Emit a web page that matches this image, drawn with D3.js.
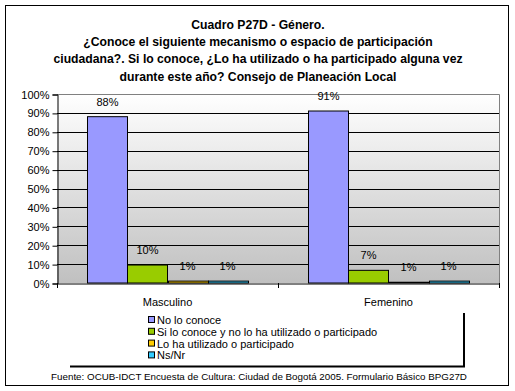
<!DOCTYPE html>
<html><head><meta charset="utf-8">
<script src="https://cdn.jsdelivr.net/npm/d3@7"></script>
<style>body{margin:0;background:#fff}svg{display:block}text{font-family:"Liberation Sans",Arial,sans-serif}</style>
</head><body><svg id="c" width="515" height="391"></svg>
<script>
const categories = ["Masculino", "Femenino"];
const seriesNames = ["No lo conoce", "Si lo conoce y no lo ha utilizado o participado", "Lo ha utilizado o participado", "Ns/Nr"];
const masculinoValues = [88, 9.5, 1, 1];
const femeninoValues = [91, 6.7, 0.4, 1];
const masculinoLabels = ["88%", "10%", "1%", "1%"];
const femeninoLabels = ["91%", "7%", "1%", "1%"];
const seriesColors = ["#9999ff", "#99cc00", "#ffcc00", "#33ccff"];
const yTickValues = [0, 10, 20, 30, 40, 50, 60, 70, 80, 90, 100];
const titleLines = ["Cuadro P27D - Género.", "¿Conoce el siguiente mecanismo o espacio de participación", "ciudadana?. Si lo conoce, ¿Lo ha utilizado o ha participado alguna vez", "durante este año? Consejo de Planeación Local"];
const sourceText = "Fuente: OCUB-IDCT Encuesta de Cultura: Ciudad de Bogotá 2005. Formulario Básico BPG27D";

const svg = d3.select("#c");
const L = 57, R = 499, T = 94, B = 283;

// outer border
svg.append("rect").attr("x", 5.5).attr("y", 5.5).attr("width", 503).attr("height", 380)
  .attr("fill", "#fff").attr("stroke", "#000");

// title
svg.append("g").selectAll("text").data(titleLines).join("text")
  .attr("x", 258).attr("y", (d, i) => 29 + i * 17.2)
  .attr("text-anchor", "middle").attr("font-weight", "bold").attr("font-size", "12.2px")
  .text(d => d);

// gradient
const defs = svg.append("defs");
const grad = defs.append("linearGradient").attr("id", "bg").attr("x1", 0).attr("y1", 0).attr("x2", 0).attr("y2", 1);
grad.append("stop").attr("offset", "0%").attr("stop-color", "#ffffff");
grad.append("stop").attr("offset", "100%").attr("stop-color", "#c0c0c0");

const y = d3.scaleLinear().domain([0, 100]).range([B, T]);
const x0 = d3.scaleBand().domain(categories).range([L, R]);
const x1 = d3.scaleBand().domain(seriesNames).range([0, x0.bandwidth()]).paddingInner(0).paddingOuter(0.76);

svg.append("rect").attr("x", L).attr("y", T).attr("width", R - L).attr("height", B - T).attr("fill", "url(#bg)");

// gridlines
svg.append("g").selectAll("line").data(yTickValues.filter(v => v > 0 && v < 100)).join("line")
  .attr("x1", L).attr("x2", R).attr("y1", d => Math.round(y(d)) + 0.5).attr("y2", d => Math.round(y(d)) + 0.5)
  .attr("stroke", "#000");
// top and right border (gray)
svg.append("path").attr("d", `M${L},${T + 0.5}H${R + 0.5}V${B}`).attr("fill", "none").attr("stroke", "#808080");

// bars
const data = [masculinoValues, femeninoValues];
const labels = [masculinoLabels, femeninoLabels];
categories.forEach((c, ci) => {
  const g = svg.append("g").attr("transform", `translate(${x0(c)},0)`);
  const rows = seriesNames.map((s, si) => ({s, v: data[ci][si], lab: labels[ci][si], col: seriesColors[si]}));
  g.selectAll("rect").data(rows).join("rect")
    .attr("x", d => Math.round(x1(d.s)) + 0.5).attr("width", Math.round(x1.bandwidth()))
    .attr("y", d => y(d.v)).attr("height", d => B - y(d.v))
    .attr("fill", d => d.col).attr("stroke", "#000").attr("stroke-width", 1);
  g.selectAll("text").data(rows).join("text")
    .attr("x", d => x1(d.s) + x1.bandwidth() / 2).attr("y", d => y(d.v) - 11)
    .attr("text-anchor", "middle").attr("font-size", "11px").text(d => d.lab);
});

// y axis
const yAxis = d3.axisLeft(y).tickValues(yTickValues).tickFormat(d => d + "%").tickSize(5).tickPadding(3);
const ya = svg.append("g").attr("transform", `translate(${L + 0.5},0.5)`).call(yAxis);
ya.select(".domain").attr("stroke", "#000");
ya.selectAll("text").attr("font-size", "11px").attr("font-family", "Liberation Sans, Arial, sans-serif").attr("fill", "#000");

// x axis
const xAxis = d3.axisBottom(x0).tickSize(0).tickFormat(d => d);
const xa = svg.append("g").attr("transform", `translate(0,${B + 0.5})`).call(xAxis);
xa.select(".domain").attr("stroke", "#000");
xa.selectAll("text").attr("font-size", "11px").attr("font-family", "Liberation Sans, Arial, sans-serif").attr("fill", "#000").attr("dy", 0).attr("y", 22);
svg.append("g").selectAll("line").data([L, x0(categories[1]), R]).join("line")
  .attr("x1", d => Math.round(d) + 0.5).attr("x2", d => Math.round(d) + 0.5)
  .attr("y1", B).attr("y2", B + 5).attr("stroke", "#000");

// legend
const lg = svg.append("g");
lg.append("rect").attr("x", 70).attr("y", 313).attr("width", 393).attr("height", 53).attr("fill", "#fff");
lg.append("path").attr("d", "M464,313V367M70,366.5H465").attr("stroke", "#000").attr("stroke-width", 2).attr("fill", "none");
const items = lg.selectAll("g.item").data(seriesNames).join("g").attr("class", "item")
  .attr("transform", (d, i) => `translate(148,${320 + i * 11.8})`);
items.append("rect").attr("x", 0.5).attr("y", -3.5).attr("width", 6).attr("height", 6)
  .attr("fill", (d, i) => seriesColors[i]).attr("stroke", "#000");
items.append("text").attr("x", 9).attr("y", 4).attr("font-size", "11px").text(d => d);

// source
svg.append("text").attr("x", 259).attr("y", 379.5).attr("text-anchor", "middle").attr("font-size", "9.8px").text(sourceText);
</script></body></html>
